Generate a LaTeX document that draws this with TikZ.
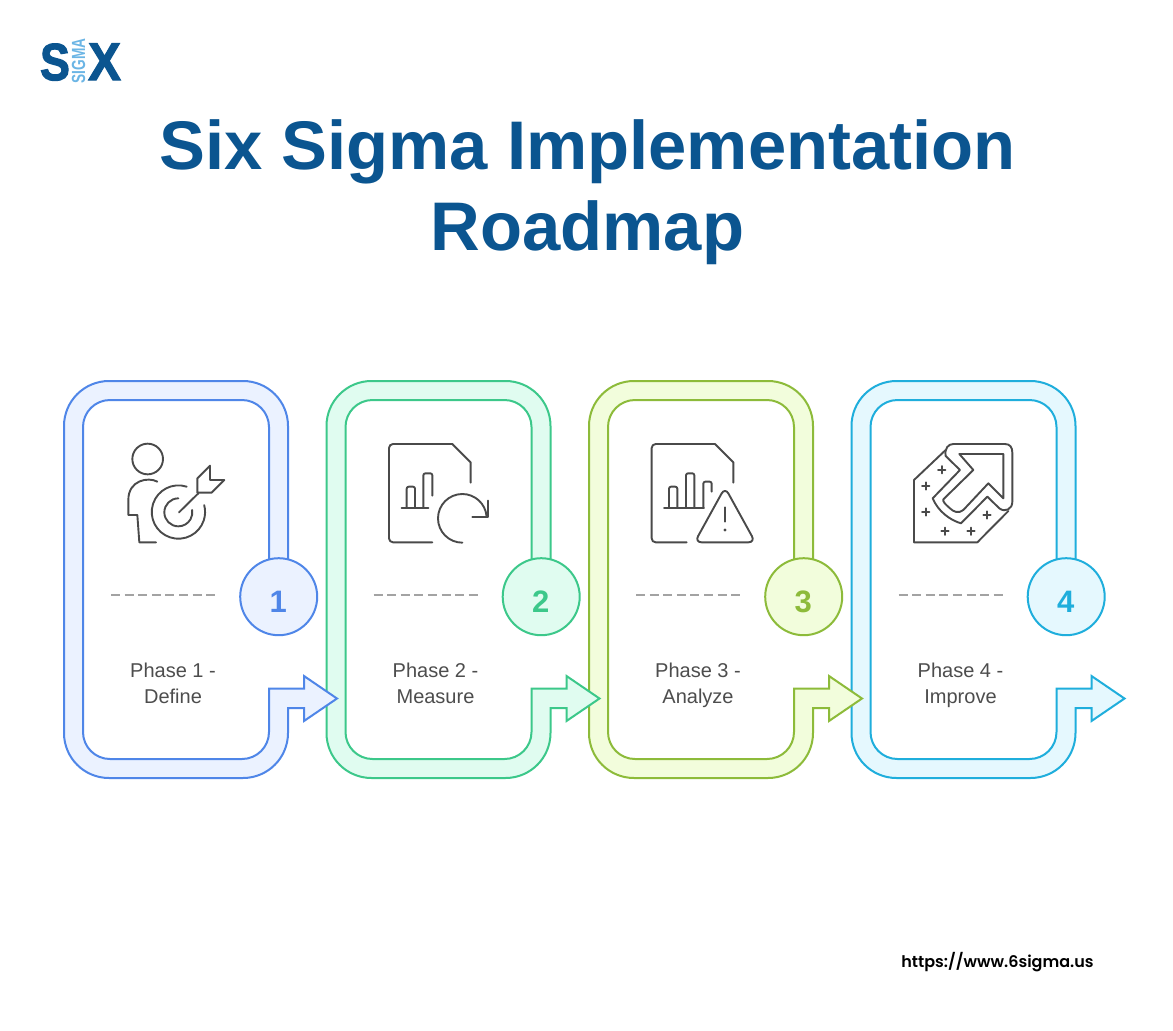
\documentclass[tikz,border=0pt]{standalone}
\usepackage{fontspec}
\setmainfont{Liberation Sans}
\newfontfamily\logofont{Liberation Sans Bold}[FakeBold=2.5]
\newfontfamily\footfont{Poppins SemiBold}
\definecolor{titleblue}{HTML}{0B5590}
\definecolor{logolight}{HTML}{6BB5E5}
\definecolor{txt}{HTML}{4D4D4D}
\definecolor{dashg}{HTML}{A3A3A3}
\definecolor{ic}{HTML}{4A4A4A}
\definecolor{sA}{HTML}{4F86E8}\definecolor{fA}{HTML}{EBF2FF}
\definecolor{sB}{HTML}{3CC88A}\definecolor{fB}{HTML}{E0FCF0}
\definecolor{sC}{HTML}{8DBB3A}\definecolor{fC}{HTML}{F2FDDC}
\definecolor{sD}{HTML}{1FAEDC}\definecolor{fD}{HTML}{E5F8FE}
\tikzset{
  ribbon/.style={line width=2pt,line join=miter},
  badge/.style={circle,line width=2pt,minimum size=77pt,inner sep=0pt},
  num/.style={font=\fontsize{31}{31}\selectfont\bfseries,anchor=center,inner sep=0pt},
  phase/.style={font=\fontsize{20}{20}\selectfont,text=txt,anchor=base,inner sep=0pt},
  sep/.style={line width=2.2pt,color=dashg,dash pattern=on 9pt off 4.6pt},
  icon/.style={line width=1.9pt,color=ic,line cap=round,line join=round},
  ttl/.style={font=\fontsize{68.8}{68.8}\selectfont\bfseries,text=titleblue,anchor=base,inner sep=0pt},
}
\newcommand{\panel}[6]{% dx, stroke, fill, index, line1, line2
  \begin{scope}[shift={(#1,0)}]
    \draw[ribbon,draw=#2,fill=#3]
      (288,575) -- (288,426) arc[start angle=0,end angle=-90,radius=45pt]
      -- (109,381) arc[start angle=-90,end angle=-180,radius=45pt]
      -- (64,733) arc[start angle=180,end angle=90,radius=45pt]
      -- (243,778) arc[start angle=90,end angle=0,radius=45pt]
      -- (288,708) -- (304,708) -- (304,721) -- (337,698.5) -- (304,676) -- (304,688.5) -- (269,688.5)
      -- (269,732) arc[start angle=0,end angle=90,radius=27pt]
      -- (110,759) arc[start angle=90,end angle=180,radius=27pt]
      -- (83,427) arc[start angle=-180,end angle=-90,radius=27pt]
      -- (242,400) arc[start angle=-90,end angle=0,radius=27pt]
      -- (269,575) -- cycle;
    \node[badge,draw=#2,fill=#3] (c#4) at (278.7,596.7) {};
    \node[num,text=#2] (n#4) at (278.2,601.5) {#4};
    \coordinate (da#4) at (111,595.3);
    \coordinate (db#4) at (216,595.3);
    \draw[sep] (da#4) -- (db#4);
    \node[phase] (la#4) at (173,677) {#5};
    \node[phase] (lb#4) at (173,703) {#6};
  \end{scope}
}
\begin{document}
\begin{tikzpicture}[x=1pt,y=1pt,yscale=-1]
\useasboundingbox (0,0) rectangle (1173,1031);
\fill[white] (0,0) rectangle (1173,1031);
% logo
\node[anchor=base,inner sep=0pt,text=titleblue] (logoS) at (55,80) {\scalebox{0.86}[1]{\logofont\fontsize{52}{52}\selectfont S}};
\node[anchor=base,inner sep=0pt,text=titleblue] (logoX) at (104.5,80) {\scalebox{0.92}[1]{\logofont\fontsize{53}{53}\selectfont X}};
\node[anchor=center,inner sep=0pt,text=logolight,rotate=90] (logoM) at (78.5,61) {\scalebox{0.72}[1]{\bfseries\fontsize{19}{19}\selectfont SIGMA}};
% title
\node[ttl] (t1) at (587.5,169) {Six Sigma Implementation};
\node[ttl] (t2) at (587.5,250) {Roadmap};
% panels (later ones underneath)
\panel{787.5}{sD}{fD}{4}{Phase 4 -}{Improve}
\panel{525}{sC}{fC}{3}{Phase 3 -}{Analyze}
\panel{262.5}{sB}{fB}{2}{Phase 2 -}{Measure}
\panel{0}{sA}{fA}{1}{Phase 1 -}{Define}
% icon 1
\begin{scope}[shift={(110,430)},scale=1/3,icon]
  \draw (113,87) circle[radius=46];
  \draw (142,155) .. controls (115,140) and (55,150) .. (55,210) -- (55,255) -- (82,255) -- (88,337) -- (138,337);
  \draw (230,170) arc[start angle=-72,end angle=-375,radius=80];
  \draw (205,205) arc[start angle=-90,end angle=-370,radius=42];
  \draw (207,247) -- (265,190);
  \draw (262,188) -- (262,145) -- (300,107) -- (300,150) -- (343,150) -- (305,188) -- cycle;
\end{scope}
% icon 2
\begin{scope}[shift={(375,430)},scale=1/3,icon]
  \draw[rounded corners=4pt] (172,337) -- (42,337) -- (42,42) -- (232,42);
  \draw (232,42) -- (287,97) -- (287,158);
  \draw (80,234) -- (160,234);
  \draw[rounded corners=2pt] (95,234) -- (95,170) -- (120,170) -- (120,234);
  \draw[rounded corners=2pt] (145,234) -- (145,130) -- (172,130) -- (172,197);
  \draw (262,338) arc[start angle=90,end angle=355,radius=73];
  \draw (338,212) -- (338,260) -- (292,260);
\end{scope}
% icon 3
\begin{scope}[shift={(640,430)},scale=1/3,icon]
  \draw[rounded corners=4pt] (140,337) -- (35,337) -- (35,42) -- (225,42);
  \draw (225,42) -- (280,97) -- (280,158);
  \draw (72,234) -- (192,234);
  \draw[rounded corners=2pt] (87,234) -- (87,170) -- (112,170) -- (112,234);
  \draw[rounded corners=2pt] (138,234) -- (138,130) -- (163,130) -- (163,234);
  \draw[rounded corners=2pt] (190,234) -- (190,155) -- (215,155) -- (215,185);
  \draw[rounded corners=7pt] (255,172) -- (346,337) -- (164,337) -- cycle;
  \draw (255,232) -- (255,275);
  \fill[ic] (255,300) circle[radius=5];
\end{scope}
% icon 4
\begin{scope}[shift={(900,430)},scale=1/3,icon]
  \draw (137,60) -- (42,150) -- (42,337) -- (232,337) -- (325,243);
  \draw (137,78) .. controls (133,55) and (145,42) .. (160,42) -- (315,42)
        .. controls (330,42) and (337,52) .. (337,68) -- (337,215)
        .. controls (337,238) and (315,248) .. (298,235) -- (262,200) -- (183,280)
        .. controls (150,270) and (115,245) .. (98,205) -- (180,120) -- cycle;
  \draw (178,72) -- (310,72) -- (310,205) -- (265,160) -- (190,240)
        .. controls (175,252) and (160,245) .. (150,235)
        .. controls (135,222) and (128,215) .. (130,208) -- (220,120) -- cycle;
  \foreach \px/\py in {125/119,77/168,77/246,135/304,213/304,261/255}{
    \draw (\px-11,\py) -- (\px+11,\py);
    \draw (\px,\py-11) -- (\px,\py+11);
  }
\end{scope}
% footer
\node[anchor=base,inner sep=0pt,text=black] (foot) at (997.5,967) {\footfont\fontsize{16}{16}\selectfont https://www.6sigma.us};
\end{tikzpicture}
\end{document}
